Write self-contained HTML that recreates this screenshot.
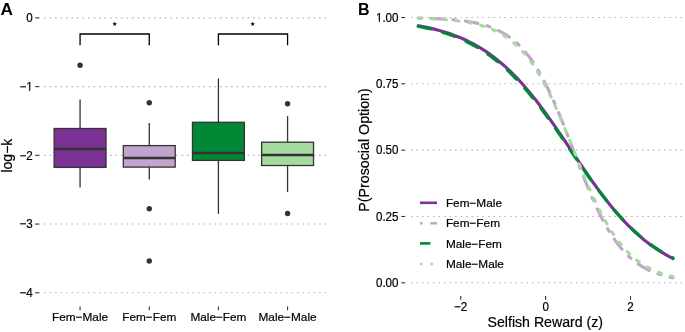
<!DOCTYPE html>
<html><head><meta charset="utf-8"><title>Figure</title>
<style>html,body{margin:0;padding:0;background:#fff;}svg{display:block;will-change:transform;}text{font-family:"Liberation Sans", sans-serif;stroke:#000;stroke-width:0.2px;}</style>
</head><body>
<svg width="685" height="332" viewBox="0 0 685 332">
<rect x="0" y="0" width="685" height="332" fill="#ffffff"/>
<line x1="43.87" y1="17.90" x2="329.07" y2="17.90" stroke="#b3b3b3" stroke-width="1.1" stroke-dasharray="1.55 3.95" stroke-dashoffset="5.3"/>
<line x1="43.87" y1="86.62" x2="329.07" y2="86.62" stroke="#b3b3b3" stroke-width="1.1" stroke-dasharray="1.55 3.95" stroke-dashoffset="5.3"/>
<line x1="43.87" y1="155.34" x2="329.07" y2="155.34" stroke="#b3b3b3" stroke-width="1.1" stroke-dasharray="1.55 3.95" stroke-dashoffset="5.3"/>
<line x1="43.87" y1="224.06" x2="329.07" y2="224.06" stroke="#b3b3b3" stroke-width="1.1" stroke-dasharray="1.55 3.95" stroke-dashoffset="5.3"/>
<line x1="43.87" y1="292.78" x2="329.07" y2="292.78" stroke="#b3b3b3" stroke-width="1.1" stroke-dasharray="1.55 3.95" stroke-dashoffset="5.3"/>
<line x1="35.2" y1="17.90" x2="39.4" y2="17.90" stroke="#333333" stroke-width="1.1"/>
<text transform="translate(32.6,22.10) scale(1,1.05)" x="0" y="0" font-size="11.6" text-anchor="end" fill="#000000">0</text>
<line x1="35.2" y1="86.62" x2="39.4" y2="86.62" stroke="#333333" stroke-width="1.1"/>
<text transform="translate(32.6,90.82) scale(1,1.05)" x="0" y="0" font-size="11.6" text-anchor="end" fill="#000000">−1</text>
<rect x="26.13" y="89.57" width="2.93" height="1.75" fill="#fff"/>
<rect x="30.09" y="89.57" width="2.94" height="1.75" fill="#fff"/>
<line x1="35.2" y1="155.34" x2="39.4" y2="155.34" stroke="#333333" stroke-width="1.1"/>
<text transform="translate(32.6,159.54) scale(1,1.05)" x="0" y="0" font-size="11.6" text-anchor="end" fill="#000000">−2</text>
<line x1="35.2" y1="224.06" x2="39.4" y2="224.06" stroke="#333333" stroke-width="1.1"/>
<text transform="translate(32.6,228.26) scale(1,1.05)" x="0" y="0" font-size="11.6" text-anchor="end" fill="#000000">−3</text>
<line x1="35.2" y1="292.78" x2="39.4" y2="292.78" stroke="#333333" stroke-width="1.1"/>
<text transform="translate(32.6,296.98) scale(1,1.05)" x="0" y="0" font-size="11.6" text-anchor="end" fill="#000000">−4</text>
<line x1="80.07" y1="306.60" x2="80.07" y2="310.20" stroke="#333333" stroke-width="1.1"/>
<text x="80.07" y="320.8" font-size="11.8" text-anchor="middle" fill="#000000">Fem−Male</text>
<line x1="149.27" y1="306.60" x2="149.27" y2="310.20" stroke="#333333" stroke-width="1.1"/>
<text x="149.27" y="320.8" font-size="11.8" text-anchor="middle" fill="#000000">Fem−Fem</text>
<line x1="218.42" y1="306.60" x2="218.42" y2="310.20" stroke="#333333" stroke-width="1.1"/>
<text x="218.42" y="320.8" font-size="11.8" text-anchor="middle" fill="#000000">Male−Fem</text>
<line x1="287.57" y1="306.60" x2="287.57" y2="310.20" stroke="#333333" stroke-width="1.1"/>
<text x="287.57" y="320.8" font-size="11.8" text-anchor="middle" fill="#000000">Male−Male</text>
<text transform="translate(12.1,155.6) rotate(-90)" x="0" y="0" font-size="14" text-anchor="middle" fill="#000000">log−k</text>
<text transform="translate(0.5,14.8) scale(1.08,1)" x="0" y="0" font-size="16" font-weight="bold" style="stroke-width:0" fill="#000000">A</text>
<line x1="80.07" y1="99.6" x2="80.07" y2="128.5" stroke="#333333" stroke-width="1.3"/>
<line x1="80.07" y1="167.4" x2="80.07" y2="187.5" stroke="#333333" stroke-width="1.3"/>
<rect x="54.12" y="128.5" width="51.9" height="38.90" fill="#7B3294" stroke="#333333" stroke-width="1.3"/>
<line x1="54.12" y1="148.9" x2="106.02" y2="148.9" stroke="#333333" stroke-width="2.5"/>
<circle cx="80.07" cy="65.2" r="2.7" fill="#333333"/>
<line x1="149.27" y1="123.1" x2="149.27" y2="145.6" stroke="#333333" stroke-width="1.3"/>
<line x1="149.27" y1="167.1" x2="149.27" y2="179.6" stroke="#333333" stroke-width="1.3"/>
<rect x="123.32" y="145.6" width="51.9" height="21.50" fill="#C2A5CF" stroke="#333333" stroke-width="1.3"/>
<line x1="123.32" y1="157.9" x2="175.22" y2="157.9" stroke="#333333" stroke-width="2.5"/>
<circle cx="149.27" cy="102.8" r="2.7" fill="#333333"/>
<circle cx="149.27" cy="208.8" r="2.7" fill="#333333"/>
<circle cx="149.27" cy="261.0" r="2.7" fill="#333333"/>
<line x1="218.42" y1="78.5" x2="218.42" y2="122.3" stroke="#333333" stroke-width="1.3"/>
<line x1="218.42" y1="160.4" x2="218.42" y2="213.9" stroke="#333333" stroke-width="1.3"/>
<rect x="192.47" y="122.3" width="51.9" height="38.10" fill="#008837" stroke="#333333" stroke-width="1.3"/>
<line x1="192.47" y1="153.1" x2="244.37" y2="153.1" stroke="#333333" stroke-width="2.5"/>
<line x1="287.57" y1="116.1" x2="287.57" y2="142.2" stroke="#333333" stroke-width="1.3"/>
<line x1="287.57" y1="165.5" x2="287.57" y2="192.1" stroke="#333333" stroke-width="1.3"/>
<rect x="261.62" y="142.2" width="51.9" height="23.30" fill="#A6DBA0" stroke="#333333" stroke-width="1.3"/>
<line x1="261.62" y1="154.9" x2="313.52" y2="154.9" stroke="#333333" stroke-width="2.5"/>
<circle cx="287.57" cy="103.8" r="2.7" fill="#333333"/>
<circle cx="287.57" cy="213.5" r="2.7" fill="#333333"/>
<path d="M80.07,45.3 L80.07,34 L149.27,34 L149.27,45.3" fill="none" stroke="#000000" stroke-width="1.3"/>
<polygon points="114.70,21.55 115.29,23.19 117.03,23.24 115.65,24.31 116.14,25.98 114.70,25.00 113.26,25.98 113.75,24.31 112.37,23.24 114.11,23.19" fill="#000000"/>
<path d="M218.42,45.3 L218.42,34 L287.57,34 L287.57,45.3" fill="none" stroke="#000000" stroke-width="1.3"/>
<polygon points="252.70,21.55 253.29,23.19 255.03,23.24 253.65,24.31 254.14,25.98 252.70,25.00 251.26,25.98 251.75,24.31 250.37,23.24 252.11,23.19" fill="#000000"/>
<line x1="410.80" y1="282.80" x2="685.7" y2="282.80" stroke="#b3b3b3" stroke-width="1.1" stroke-dasharray="1.55 3.95" stroke-dashoffset="5.3"/>
<line x1="410.80" y1="216.48" x2="685.7" y2="216.48" stroke="#b3b3b3" stroke-width="1.1" stroke-dasharray="1.55 3.95" stroke-dashoffset="5.3"/>
<line x1="410.80" y1="150.15" x2="685.7" y2="150.15" stroke="#b3b3b3" stroke-width="1.1" stroke-dasharray="1.55 3.95" stroke-dashoffset="5.3"/>
<line x1="410.80" y1="83.82" x2="685.7" y2="83.82" stroke="#b3b3b3" stroke-width="1.1" stroke-dasharray="1.55 3.95" stroke-dashoffset="5.3"/>
<line x1="410.80" y1="17.50" x2="685.7" y2="17.50" stroke="#b3b3b3" stroke-width="1.1" stroke-dasharray="1.55 3.95" stroke-dashoffset="5.3"/>
<line x1="401.3" y1="282.80" x2="405.2" y2="282.80" stroke="#333333" stroke-width="1.1"/>
<text transform="translate(398.5,287.00) scale(1,1.05)" x="0" y="0" font-size="11.6" text-anchor="end" fill="#000000">0.00</text>
<line x1="401.3" y1="216.48" x2="405.2" y2="216.48" stroke="#333333" stroke-width="1.1"/>
<text transform="translate(398.5,220.68) scale(1,1.05)" x="0" y="0" font-size="11.6" text-anchor="end" fill="#000000">0.25</text>
<line x1="401.3" y1="150.15" x2="405.2" y2="150.15" stroke="#333333" stroke-width="1.1"/>
<text transform="translate(398.5,154.35) scale(1,1.05)" x="0" y="0" font-size="11.6" text-anchor="end" fill="#000000">0.50</text>
<line x1="401.3" y1="83.82" x2="405.2" y2="83.82" stroke="#333333" stroke-width="1.1"/>
<text transform="translate(398.5,88.02) scale(1,1.05)" x="0" y="0" font-size="11.6" text-anchor="end" fill="#000000">0.75</text>
<line x1="401.3" y1="17.50" x2="405.2" y2="17.50" stroke="#333333" stroke-width="1.1"/>
<text transform="translate(398.5,21.70) scale(1,1.05)" x="0" y="0" font-size="11.6" text-anchor="end" fill="#000000">1.00</text>
<rect x="375.91" y="20.45" width="2.93" height="1.75" fill="#fff"/>
<rect x="379.87" y="20.45" width="2.94" height="1.75" fill="#fff"/>
<line x1="460.70" y1="296.1" x2="460.70" y2="299.80" stroke="#333333" stroke-width="1.1"/>
<text transform="translate(460.70,311.2) scale(1,1.05)" x="0" y="0" font-size="11.6" text-anchor="middle" fill="#000000">−2</text>
<line x1="545.60" y1="296.1" x2="545.60" y2="299.80" stroke="#333333" stroke-width="1.1"/>
<text transform="translate(545.60,311.2) scale(1,1.05)" x="0" y="0" font-size="11.6" text-anchor="middle" fill="#000000">0</text>
<line x1="630.50" y1="296.1" x2="630.50" y2="299.80" stroke="#333333" stroke-width="1.1"/>
<text transform="translate(630.50,311.2) scale(1,1.05)" x="0" y="0" font-size="11.6" text-anchor="middle" fill="#000000">2</text>
<text x="545.3" y="326.6" font-size="14.15" text-anchor="middle" fill="#000000">Selfish Reward (z)</text>
<text transform="translate(369.1,150.0) rotate(-90)" x="0" y="0" font-size="14.25" text-anchor="middle" fill="#000000">P(Prosocial Option)</text>
<text x="357.9" y="14.8" font-size="16" font-weight="bold" style="stroke-width:0" fill="#000000">B</text>
<path d="M418.25,25.73 L420.37,26.12 L422.50,26.53 L424.62,26.96 L426.74,27.40 L428.86,27.87 L430.99,28.36 L433.11,28.87 L435.23,29.40 L437.35,29.95 L439.48,30.53 L441.60,31.14 L443.72,31.77 L445.84,32.43 L447.97,33.12 L450.09,33.84 L452.21,34.58 L454.33,35.36 L456.46,36.18 L458.58,37.02 L460.70,37.91 L462.82,38.82 L464.95,39.78 L467.07,40.78 L469.19,41.81 L471.31,42.89 L473.44,44.01 L475.56,45.17 L477.68,46.38 L479.80,47.63 L481.93,48.93 L484.05,50.28 L486.17,51.68 L488.29,53.13 L490.42,54.63 L492.54,56.18 L494.66,57.78 L496.78,59.45 L498.91,61.16 L501.03,62.93 L503.15,64.76 L505.27,66.65 L507.40,68.59 L509.52,70.59 L511.64,72.65 L513.76,74.77 L515.88,76.94 L518.01,79.18 L520.13,81.47 L522.25,83.82 L524.38,86.22 L526.50,88.68 L528.62,91.20 L530.74,93.77 L532.87,96.40 L534.99,99.07 L537.11,101.80 L539.23,104.57 L541.36,107.39 L543.48,110.25 L545.60,113.15 L547.72,116.10 L549.85,119.07 L551.97,122.09 L554.09,125.13 L556.21,128.20 L558.34,131.30 L560.46,134.41 L562.58,137.55 L564.70,140.69 L566.83,143.85 L568.95,147.02 L571.07,150.19 L573.19,153.36 L575.32,156.53 L577.44,159.68 L579.56,162.83 L581.68,165.97 L583.81,169.08 L585.93,172.18 L588.05,175.25 L590.17,178.29 L592.29,181.30 L594.42,184.28 L596.54,187.22 L598.66,190.12 L600.78,192.98 L602.91,195.80 L605.03,198.57 L607.15,201.30 L609.27,203.97 L611.40,206.59 L613.52,209.16 L615.64,211.68 L617.76,214.14 L619.89,216.54 L622.01,218.89 L624.13,221.18 L626.25,223.41 L628.38,225.59 L630.50,227.70 L632.62,229.76 L634.75,231.76 L636.87,233.70 L638.99,235.59 L641.11,237.41 L643.24,239.18 L645.36,240.90 L647.48,242.56 L649.60,244.16 L651.73,245.71 L653.85,247.21 L655.97,248.66 L658.09,250.06 L660.22,251.40 L662.34,252.70 L664.46,253.95 L666.58,255.16 L668.71,256.32 L670.83,257.44 L672.95,258.51" fill="none" stroke="#7B3294" stroke-width="3.15" stroke-linecap="round" stroke-linejoin="round"/>
<path d="M418.25,18.07 L420.37,18.12 L422.50,18.17 L424.62,18.23 L426.74,18.29 L428.86,18.36 L430.99,18.44 L433.11,18.52 L435.23,18.61 L437.35,18.71 L439.48,18.81 L441.60,18.93 L443.72,19.05 L445.84,19.19 L447.97,19.33 L450.09,19.49 L452.21,19.67 L454.33,19.85 L456.46,20.06 L458.58,20.28 L460.70,20.52 L462.82,20.79 L464.95,21.07 L467.07,21.38 L469.19,21.71 L471.31,22.08 L473.44,22.47 L475.56,22.90 L477.68,23.36 L479.80,23.87 L481.93,24.41 L484.05,25.00 L486.17,25.64 L488.29,26.33 L490.42,27.08 L492.54,27.88 L494.66,28.76 L496.78,29.70 L498.91,30.72 L501.03,31.81 L503.15,33.00 L505.27,34.27 L507.40,35.64 L509.52,37.12 L511.64,38.70 L513.76,40.40 L515.88,42.23 L518.01,44.18 L520.13,46.27 L522.25,48.50 L524.38,50.88 L526.50,53.41 L528.62,56.11 L530.74,58.97 L532.87,62.00 L534.99,65.20 L537.11,68.58 L539.23,72.14 L541.36,75.88 L543.48,79.80 L545.60,83.91 L547.72,88.18 L549.85,92.63 L551.97,97.24 L554.09,102.01 L556.21,106.93 L558.34,111.99 L560.46,117.17 L562.58,122.45 L564.70,127.84 L566.83,133.30 L568.95,138.81 L571.07,144.37 L573.19,149.95 L575.32,155.53 L577.44,161.09 L579.56,166.61 L581.68,172.07 L583.81,177.46 L585.93,182.75 L588.05,187.94 L590.17,193.01 L592.29,197.93 L594.42,202.72 L596.54,207.34 L598.66,211.80 L600.78,216.09 L602.91,220.20 L605.03,224.14 L607.15,227.89 L609.27,231.47 L611.40,234.86 L613.52,238.08 L615.64,241.12 L617.76,243.99 L619.89,246.70 L622.01,249.24 L624.13,251.63 L626.25,253.87 L628.38,255.97 L630.50,257.94 L632.62,259.77 L634.75,261.48 L636.87,263.07 L638.99,264.55 L641.11,265.93 L643.24,267.21 L645.36,268.40 L647.48,269.51 L649.60,270.53 L651.73,271.48 L653.85,272.36 L655.97,273.17 L658.09,273.92 L660.22,274.61 L662.34,275.26 L664.46,275.85 L666.58,276.40 L668.71,276.90 L670.83,277.37 L672.95,277.80" fill="none" stroke="#C2A5CF" stroke-width="3.15" stroke-linecap="round" stroke-linejoin="round" stroke-dasharray="3.15 9.45 12.60 9.45"/>
<path d="M418.25,26.34 L420.37,26.75 L422.50,27.18 L424.62,27.62 L426.74,28.09 L428.86,28.58 L430.99,29.09 L433.11,29.62 L435.23,30.18 L437.35,30.75 L439.48,31.36 L441.60,31.99 L443.72,32.65 L445.84,33.33 L447.97,34.05 L450.09,34.79 L452.21,35.57 L454.33,36.37 L456.46,37.21 L458.58,38.09 L460.70,39.00 L462.82,39.94 L464.95,40.93 L467.07,41.95 L469.19,43.02 L471.31,44.12 L473.44,45.27 L475.56,46.46 L477.68,47.69 L479.80,48.97 L481.93,50.30 L484.05,51.67 L486.17,53.10 L488.29,54.57 L490.42,56.09 L492.54,57.67 L494.66,59.30 L496.78,60.98 L498.91,62.71 L501.03,64.50 L503.15,66.35 L505.27,68.25 L507.40,70.20 L509.52,72.22 L511.64,74.28 L513.76,76.41 L515.88,78.59 L518.01,80.83 L520.13,83.12 L522.25,85.47 L524.38,87.87 L526.50,90.33 L528.62,92.84 L530.74,95.40 L532.87,98.01 L534.99,100.66 L537.11,103.37 L539.23,106.12 L541.36,108.92 L543.48,111.75 L545.60,114.63 L547.72,117.54 L549.85,120.48 L551.97,123.46 L554.09,126.46 L556.21,129.49 L558.34,132.54 L560.46,135.61 L562.58,138.70 L564.70,141.80 L566.83,144.90 L568.95,148.02 L571.07,151.13 L573.19,154.25 L575.32,157.36 L577.44,160.46 L579.56,163.55 L581.68,166.63 L583.81,169.69 L585.93,172.73 L588.05,175.74 L590.17,178.72 L592.29,181.68 L594.42,184.60 L596.54,187.49 L598.66,190.34 L600.78,193.15 L602.91,195.92 L605.03,198.64 L607.15,201.32 L609.27,203.95 L611.40,206.53 L613.52,209.05 L615.64,211.53 L617.76,213.95 L619.89,216.32 L622.01,218.63 L624.13,220.89 L626.25,223.09 L628.38,225.24 L630.50,227.33 L632.62,229.36 L634.75,231.34 L636.87,233.26 L638.99,235.12 L641.11,236.93 L643.24,238.69 L645.36,240.39 L647.48,242.04 L649.60,243.63 L651.73,245.17 L653.85,246.67 L655.97,248.11 L658.09,249.50 L660.22,250.85 L662.34,252.14 L664.46,253.39 L666.58,254.60 L668.71,255.76 L670.83,256.88 L672.95,257.96" fill="none" stroke="#008837" stroke-width="3.15" stroke-linecap="round" stroke-linejoin="round" stroke-dasharray="12.60 12.60"/>
<path d="M418.25,18.27 L420.37,18.33 L422.50,18.40 L424.62,18.48 L426.74,18.56 L428.86,18.65 L430.99,18.74 L433.11,18.84 L435.23,18.96 L437.35,19.08 L439.48,19.21 L441.60,19.35 L443.72,19.50 L445.84,19.66 L447.97,19.84 L450.09,20.03 L452.21,20.24 L454.33,20.47 L456.46,20.71 L458.58,20.97 L460.70,21.26 L462.82,21.56 L464.95,21.90 L467.07,22.25 L469.19,22.64 L471.31,23.06 L473.44,23.51 L475.56,24.00 L477.68,24.52 L479.80,25.09 L481.93,25.70 L484.05,26.36 L486.17,27.07 L488.29,27.83 L490.42,28.65 L492.54,29.53 L494.66,30.48 L496.78,31.50 L498.91,32.60 L501.03,33.78 L503.15,35.04 L505.27,36.39 L507.40,37.84 L509.52,39.39 L511.64,41.05 L513.76,42.81 L515.88,44.70 L518.01,46.71 L520.13,48.85 L522.25,51.12 L524.38,53.53 L526.50,56.09 L528.62,58.79 L530.74,61.65 L532.87,64.66 L534.99,67.84 L537.11,71.17 L539.23,74.66 L541.36,78.32 L543.48,82.14 L545.60,86.12 L547.72,90.25 L549.85,94.54 L551.97,98.97 L554.09,103.54 L556.21,108.24 L558.34,113.06 L560.46,117.99 L562.58,123.01 L564.70,128.12 L566.83,133.30 L568.95,138.52 L571.07,143.79 L573.19,149.07 L575.32,154.36 L577.44,159.63 L579.56,164.88 L581.68,170.08 L583.81,175.21 L585.93,180.27 L588.05,185.24 L590.17,190.11 L592.29,194.86 L594.42,199.48 L596.54,203.97 L598.66,208.32 L600.78,212.51 L602.91,216.56 L605.03,220.44 L607.15,224.16 L609.27,227.73 L611.40,231.13 L613.52,234.36 L615.64,237.44 L617.76,240.36 L619.89,243.13 L622.01,245.74 L624.13,248.21 L626.25,250.54 L628.38,252.74 L630.50,254.80 L632.62,256.73 L634.75,258.55 L636.87,260.25 L638.99,261.84 L641.11,263.33 L643.24,264.72 L645.36,266.02 L647.48,267.23 L649.60,268.36 L651.73,269.41 L653.85,270.39 L655.97,271.30 L658.09,272.14 L660.22,272.93 L662.34,273.66 L664.46,274.34 L666.58,274.97 L668.71,275.55 L670.83,276.09 L672.95,276.60" fill="none" stroke="#A6DBA0" stroke-width="3.15" stroke-linecap="round" stroke-linejoin="round" stroke-dasharray="3.15 9.45"/>
<line x1="420.0" y1="202.8" x2="437.0" y2="202.8" stroke="#7B3294" stroke-width="2.6" stroke-linecap="butt"/>
<text x="445.9" y="206.90" font-size="11.8" fill="#000000">Fem−Male</text>
<line x1="420.0" y1="223.3" x2="437.0" y2="223.3" stroke="#C2A5CF" stroke-width="2.6" stroke-linecap="butt" stroke-dasharray="2.6 7.800000000000001 10.4 7.800000000000001"/>
<text x="445.9" y="227.40" font-size="11.8" fill="#000000">Fem−Fem</text>
<line x1="420.0" y1="243.4" x2="437.0" y2="243.4" stroke="#008837" stroke-width="2.6" stroke-linecap="butt" stroke-dasharray="10.4 10.4"/>
<text x="445.9" y="247.50" font-size="11.8" fill="#000000">Male−Fem</text>
<line x1="420.0" y1="264.0" x2="437.0" y2="264.0" stroke="#A6DBA0" stroke-width="2.6" stroke-linecap="butt" stroke-dasharray="2.6 7.800000000000001"/>
<text x="445.9" y="268.10" font-size="11.8" fill="#000000">Male−Male</text>
</svg>
</body></html>
